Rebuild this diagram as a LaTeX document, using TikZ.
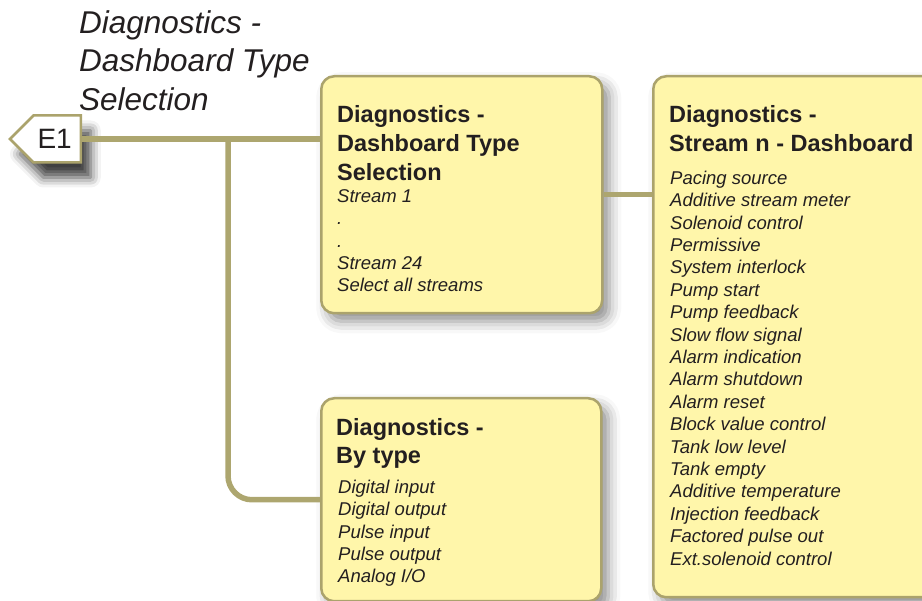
\documentclass[tikz,border=0pt]{standalone}
\usepackage{fontspec}
\setmainfont{Liberation Sans}
\usetikzlibrary{calc,shapes.symbols,shadows.blur}

\definecolor{boxfill}{HTML}{FFF6AA}
\definecolor{boxedge}{HTML}{ABA36C}
\definecolor{linkolive}{HTML}{ADA66F}
\definecolor{inktext}{HTML}{231F20}

\begin{document}
\begin{tikzpicture}[
  x=1pt,y=-1pt,
  boxnode/.style={draw=boxedge,line width=2.5pt,fill=boxfill,rounded corners=13pt,
    anchor=north west,inner sep=0pt,
    blur shadow={shadow xshift=7pt,shadow yshift=-8pt,shadow blur radius=12pt,shadow opacity=45}},
  headnode/.style={anchor=north west,inner sep=0pt,text=inktext,
    font=\fontsize{23.5}{28.7}\selectfont\bfseries},
  listnode/.style={anchor=north west,inner sep=0pt,text=inktext,
    font=\fontsize{18.5}{22.4}\selectfont\itshape},
  titlenode/.style={anchor=north west,inner sep=0pt,text=inktext,
    font=\fontsize{31.5}{38.5}\selectfont\itshape},
  tagnode/.style={signal,signal to=west,signal pointer angle=90,draw=boxedge,line width=2.5pt,
    fill=white,anchor=east,minimum height=47pt,inner xsep=4pt,text=inktext,
    font=\fontsize{28}{32}\selectfont,
    blur shadow={shadow xshift=10pt,shadow yshift=-15pt,shadow blur radius=10pt,shadow opacity=75}},
  link/.style={draw=linkolive,line width=5.5pt}
]
\useasboundingbox (0,0) rectangle (922,601);

\node[titlenode] (title) at (79,6) {%
  \begin{tabular}{@{}l@{}} Diagnostics - \\ Dashboard Type \\ Selection \end{tabular}};

\node[tagnode] (e1) at (82,139) {E1\kern5pt};

% boxes
\node[boxnode,minimum width=281pt,minimum height=237pt] (dash) at (320,75) {};
\node[boxnode,minimum width=300pt,minimum height=521pt] (stream) at (652,75) {};
\node[boxnode,minimum width=280pt,minimum height=203pt] (bytype) at (320,397) {};

\node[headnode] (dashhead) at (337,102.5) {%
  \begin{tabular}{@{}l@{}} Diagnostics - \\ Dashboard Type \\ Selection \end{tabular}};
\node[listnode] (dashlist) at (337,186.5) {%
  \begin{tabular}{@{}l@{}} Stream 1 \\ . \\ . \\ Stream 24 \\ Select all streams \end{tabular}};

\node[headnode] (streamhead) at (669,102.5) {%
  \begin{tabular}{@{}l@{}} Diagnostics - \\ Stream n - Dashboard \end{tabular}};
\node[listnode] (streamlist) at (670,168.5) {%
  \begin{tabular}{@{}l@{}} Pacing source \\ Additive stream meter \\ Solenoid control \\
  Permissive \\ System interlock \\ Pump start \\ Pump feedback \\ Slow flow signal \\
  Alarm indication \\ Alarm shutdown \\ Alarm reset \\ Block value control \\
  Tank low level \\ Tank empty \\ Additive temperature \\ Injection feedback \\
  Factored pulse out \\ Ext.solenoid control \end{tabular}};

\node[headnode] (bytypehead) at (336,415) {%
  \begin{tabular}{@{}l@{}} Diagnostics - \\ By type \end{tabular}};
\node[listnode] (bytypelist) at (338,477.5) {%
  \begin{tabular}{@{}l@{}} Digital input \\ Digital output \\ Pulse input \\
  Pulse output \\ Analog I/O \end{tabular}};

% connectors
\coordinate (split) at (228,0 |- e1.east);
\draw[link] (e1.east) -- (e1.east -| dash.west);
\draw[link,rounded corners=24pt] (split) |- (bytype.west);
\draw[link] (dash.east) -- (dash.east -| stream.west);

\end{tikzpicture}
\end{document}
